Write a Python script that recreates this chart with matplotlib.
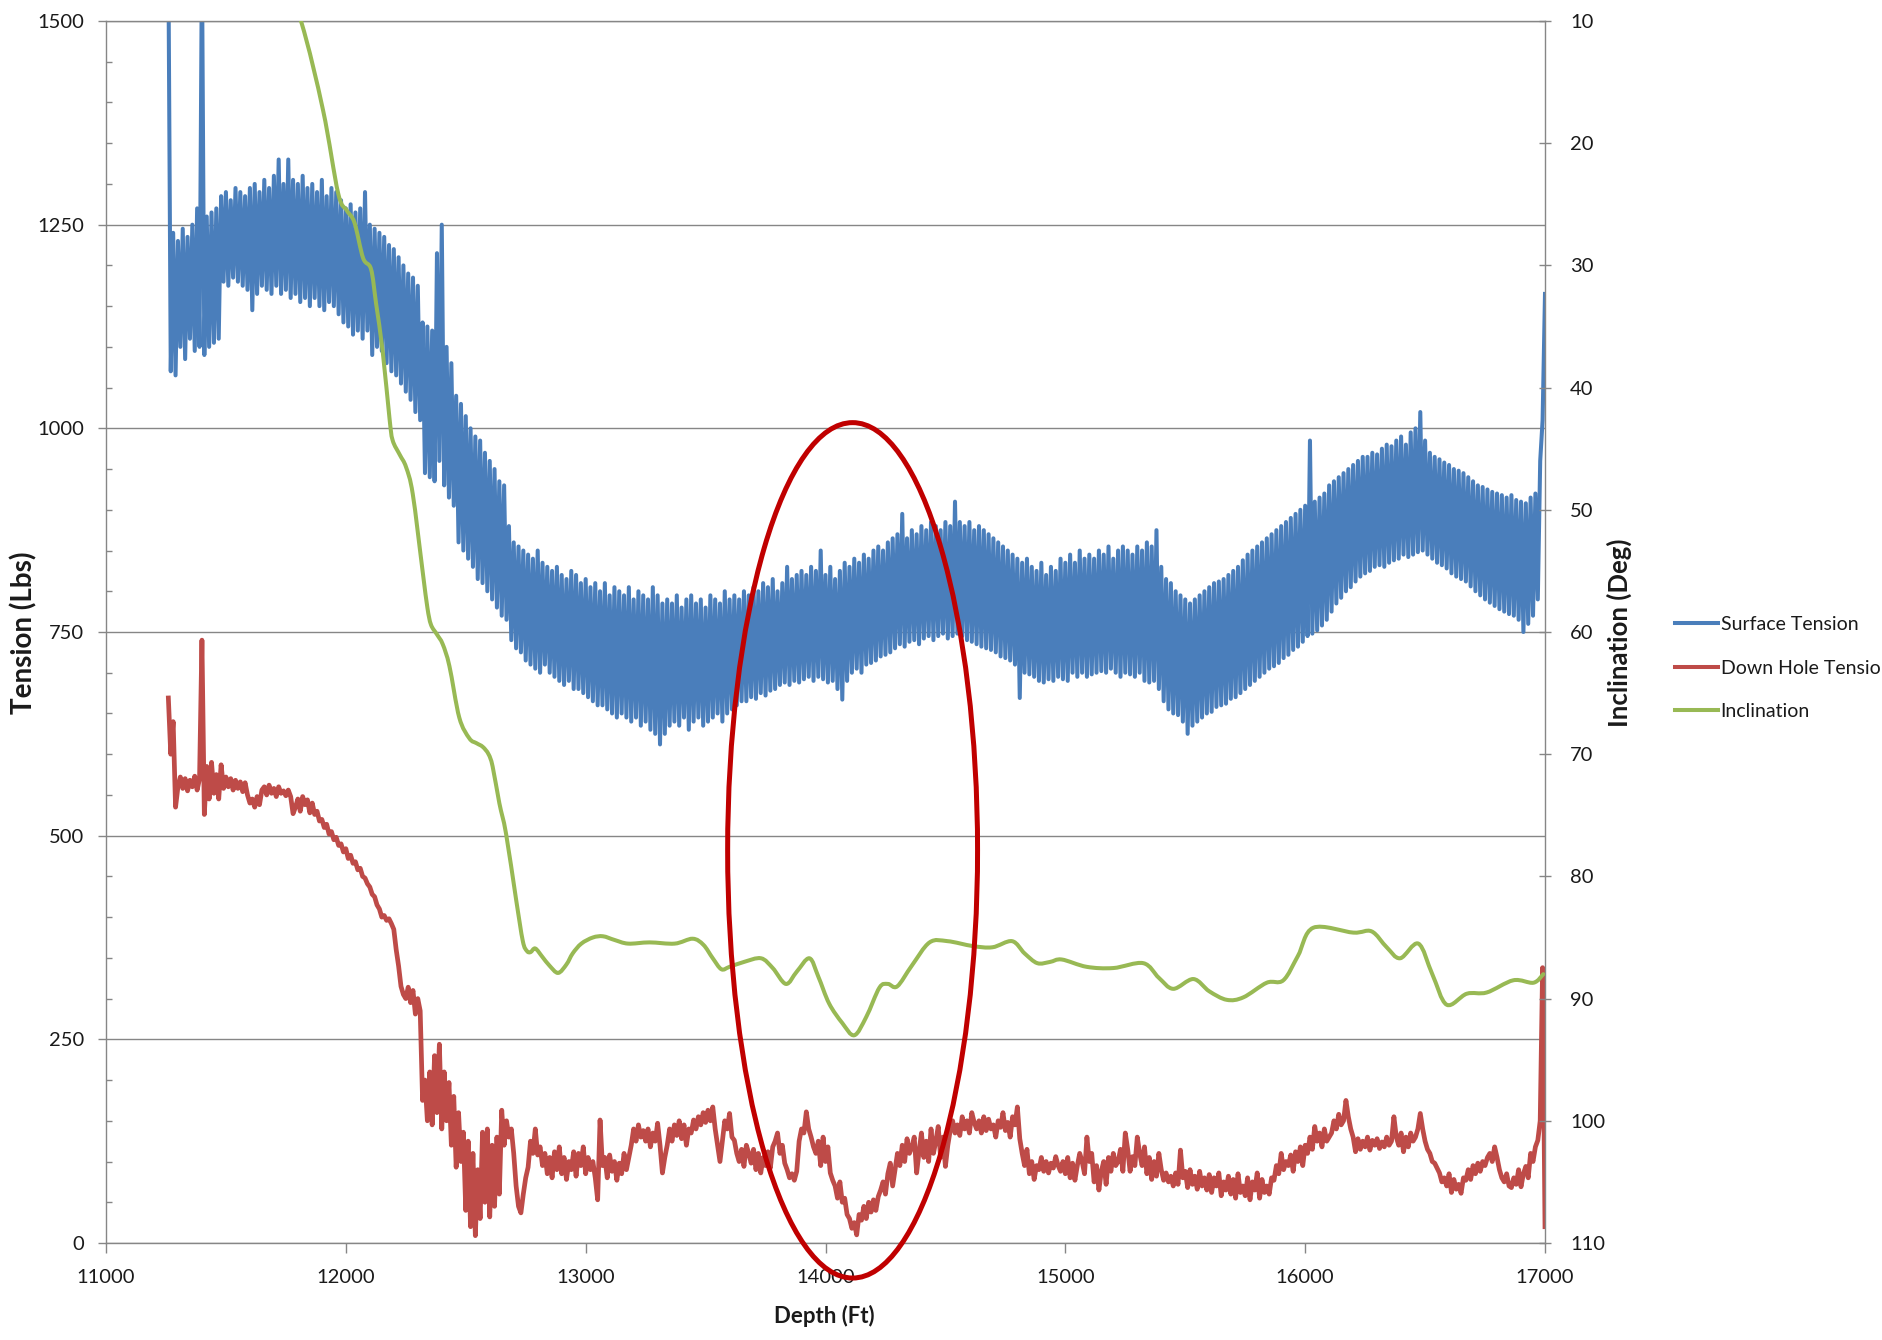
import numpy as np
import matplotlib
matplotlib.use("Agg")
import matplotlib.pyplot as plt
from matplotlib.patches import Ellipse, PathPatch
from matplotlib.path import Path
from matplotlib.lines import Line2D
from matplotlib.ticker import MultipleLocator, FixedLocator

plt.rcParams['font.family'] = ['Lato', 'DejaVu Sans']

# Logged depth grid (ft), one reading every 10 ft
log_depth = np.arange(11260, 17001, 10)

# Surface tension readings (lbs)
surface_tension = [
    1580, 1070, 1240, 1065, 1230, 1100, 1245, 1085, 1235, 1110,
    1250, 1095, 1270, 1100, 1580, 1090, 1260, 1100, 1265, 1105,
    1270, 1110, 1285, 1180, 1290, 1175, 1280, 1185, 1295, 1180,
    1290, 1175, 1285, 1170, 1295, 1145, 1300, 1165, 1290, 1175,
    1305, 1170, 1295, 1165, 1310, 1175, 1330, 1165, 1300, 1170,
    1330, 1160, 1305, 1165, 1300, 1155, 1310, 1160, 1295, 1150,
    1300, 1160, 1290, 1150, 1305, 1145, 1285, 1155, 1295, 1150,
    1290, 1140, 1280, 1130, 1270, 1125, 1275, 1115, 1265, 1120,
    1270, 1110, 1290, 1120, 1250, 1090, 1245, 1100, 1240, 1095,
    1235, 1080, 1225, 1070, 1220, 1065, 1210, 1055, 1200, 1045,
    1190, 1035, 1185, 1020, 1175, 1010, 1130, 945, 1125, 940,
    1120, 935, 1215, 960, 1250, 930, 1100, 915, 1080, 905,
    1040, 860, 1030, 850, 1015, 840, 1000, 830, 990, 815,
    985, 810, 970, 800, 960, 790, 950, 780, 935, 770,
    930, 765, 880, 740, 860, 730, 855, 725, 850, 715,
    845, 710, 840, 705, 850, 700, 835, 710, 830, 700,
    825, 695, 830, 690, 820, 685, 815, 690, 825, 680,
    820, 680, 810, 675, 815, 670, 805, 665, 810, 660,
    800, 660, 810, 655, 795, 650, 805, 645, 800, 650,
    795, 645, 805, 640, 790, 645, 800, 635, 795, 640,
    790, 630, 805, 625, 795, 612, 785, 625, 790, 635,
    785, 640, 795, 635, 780, 645, 790, 630, 795, 640,
    785, 645, 790, 635, 780, 640, 795, 645, 790, 650,
    785, 640, 800, 650, 790, 655, 795, 660, 790, 665,
    800, 665, 795, 670, 805, 668, 800, 675, 810, 672,
    805, 678, 815, 680, 800, 685, 810, 688, 830, 685,
    815, 690, 820, 688, 825, 692, 820, 695, 830, 690,
    825, 695, 850, 692, 820, 688, 830, 690, 815, 680,
    825, 667, 835, 690, 830, 700, 840, 705, 835, 700,
    845, 710, 840, 712, 850, 715, 855, 720, 850, 722,
    860, 725, 865, 730, 870, 735, 895, 732, 865, 738,
    875, 740, 870, 735, 880, 742, 875, 745, 885, 740,
    880, 745, 875, 748, 885, 742, 880, 745, 910, 748,
    885, 745, 880, 740, 885, 738, 875, 735, 880, 732,
    875, 730, 870, 728, 865, 725, 860, 720, 855, 718,
    850, 715, 845, 710, 840, 669, 835, 700, 840, 698,
    830, 695, 825, 690, 835, 688, 820, 692, 830, 690,
    825, 695, 840, 692, 835, 690, 845, 700, 835, 695,
    850, 700, 840, 695, 845, 698, 840, 700, 850, 702,
    845, 700, 855, 705, 840, 700, 850, 695, 855, 700,
    850, 698, 845, 695, 855, 700, 850, 690, 860, 688,
    855, 690, 875, 680, 830, 665, 815, 655, 810, 650,
    800, 648, 795, 640, 790, 625, 785, 635, 790, 640,
    795, 645, 800, 650, 805, 652, 810, 658, 812, 660,
    815, 662, 820, 668, 825, 670, 830, 675, 838, 680,
    845, 685, 850, 690, 855, 695, 860, 700, 865, 705,
    870, 708, 875, 712, 880, 718, 885, 722, 890, 728,
    895, 732, 900, 738, 905, 745, 985, 748, 910, 752,
    915, 758, 920, 765, 930, 775, 935, 785, 940, 792,
    945, 800, 950, 805, 955, 812, 960, 818, 965, 822,
    965, 825, 970, 830, 968, 832, 975, 830, 980, 835,
    978, 838, 985, 840, 990, 845, 980, 842, 995, 845,
    1000, 848, 1020, 850, 985, 845, 970, 840, 965, 835,
    962, 832, 958, 828, 955, 822, 950, 818, 948, 815,
    945, 812, 940, 806, 935, 800, 930, 795, 928, 790,
    925, 786, 922, 782, 920, 778, 918, 775, 915, 772,
    918, 770, 912, 765, 910, 750, 908, 760, 915, 770,
    920, 790, 960, 1010, 1165,
]

# Down hole tension readings (lbs)
downhole_tension = [
    669, 600, 640, 535, 560, 572, 558, 570, 555, 568,
    560, 573, 556, 570, 740, 526, 585, 545, 590, 552,
    575, 545, 587, 558, 572, 560, 570, 556, 568, 558,
    566, 554, 565, 550, 540, 545, 535, 548, 538, 556,
    560, 550, 562, 552, 558, 548, 560, 552, 555, 549,
    556, 548, 527, 535, 545, 530, 548, 538, 544, 528,
    540, 526, 530, 518, 520, 510, 514, 502, 505, 495,
    498, 488, 490, 480, 484, 472, 476, 466, 468, 458,
    460, 450, 448, 441, 437, 428, 425, 415, 410, 400,
    402, 396, 398, 392, 385, 360, 340, 315, 305, 300,
    314, 295, 310, 281, 300, 285, 175, 200, 150, 210,
    145, 230, 160, 244, 140, 210, 150, 197, 120, 180,
    93, 160, 100, 136, 40, 125, 20, 110, 9, 90,
    30, 136, 50, 140, 32, 120, 45, 130, 60, 163,
    120, 150, 130, 140, 110, 70, 45, 37, 60, 80,
    93, 125, 110, 140, 108, 118, 95, 110, 85, 105,
    80, 112, 90, 118, 85, 105, 78, 100, 90, 112,
    82, 110, 95, 118, 85, 105, 90, 100, 80, 53,
    151, 95, 105, 80, 108, 88, 100, 77, 98, 85,
    110, 90, 105, 120, 140, 125, 145, 130, 138, 125,
    140, 118, 135, 125, 147, 120, 86, 105, 120, 140,
    125, 145, 132, 150, 128, 145, 120, 140, 135, 151,
    140, 155, 145, 160, 148, 163, 150, 167, 140, 120,
    100, 125, 150, 140, 159, 130, 126, 110, 100, 115,
    94, 120, 110, 98, 115, 90, 110, 86, 105, 95,
    112, 92, 118, 125, 135, 110, 120, 98, 90, 80,
    85, 77, 88, 125, 140, 135, 161, 140, 130, 118,
    110, 125, 95, 130, 100, 118, 86, 77, 70, 55,
    75, 50, 55, 35, 30, 18, 25, 10, 35, 28,
    45, 30, 50, 38, 53, 40, 57, 65, 75, 60,
    85, 98, 70, 90, 110, 95, 120, 100, 128, 110,
    118, 130, 86, 112, 135, 105, 125, 100, 140, 110,
    125, 143, 105, 130, 94, 120, 138, 150, 135, 145,
    132, 155, 140, 150, 135, 160, 148, 140, 150, 135,
    155, 138, 152, 140, 145, 130, 150, 142, 160, 138,
    148, 130, 155, 145, 167, 128, 110, 95, 115, 85,
    100, 78, 95, 90, 105, 88, 100, 86, 98, 92,
    106, 95, 88, 100, 85, 105, 80, 98, 77, 95,
    110, 100, 85, 130, 100, 110, 75, 95, 65, 88,
    100, 72, 105, 88, 110, 95, 100, 115, 88, 135,
    115, 88, 106, 95, 130, 110, 95, 118, 85, 105,
    78, 100, 82, 110, 90, 77, 86, 75, 82, 70,
    86, 72, 114, 80, 88, 68, 90, 72, 82, 66,
    88, 70, 80, 65, 84, 62, 80, 70, 86, 58,
    75, 65, 82, 60, 78, 55, 85, 62, 70, 58,
    80, 53, 75, 65, 86, 55, 78, 62, 70, 60,
    80, 77, 95, 85, 110, 90, 100, 95, 108, 88,
    112, 100, 118, 95, 120, 110, 130, 115, 143, 125,
    135, 118, 140, 125, 130, 135, 150, 140, 158, 145,
    150, 175, 155, 140, 130, 112, 128, 115, 125, 118,
    130, 114, 126, 120, 128, 116, 124, 118, 130, 120,
    125, 155, 130, 120, 135, 112, 130, 118, 135, 125,
    130, 140, 159, 140, 125, 115, 110, 100, 98, 92,
    86, 75, 80, 70, 85, 62, 78, 66, 72, 61,
    80, 77, 90, 78, 95, 85, 98, 88, 100, 95,
    105, 110, 100, 118, 105, 90, 80, 75, 85, 70,
    68, 80, 72, 90, 69, 85, 94, 80, 110, 100,
    118, 126, 150, 338, 20,
]

# Survey inclination (deg) at survey depths (ft)
incl_depth = [
    11700, 11813, 11905, 11968, 12004, 12036, 12072, 12105, 12126, 12154,
    12182, 12195, 12225, 12251, 12279, 12320, 12340, 12355, 12380, 12404,
    12432, 12473, 12515, 12545, 12571, 12595, 12612, 12640, 12668, 12710,
    12738, 12755, 12770, 12790, 12820, 12849, 12885, 12920, 12946, 12982,
    13030, 13072, 13120, 13177, 13266, 13371, 13446, 13491, 13530, 13566,
    13600, 13660, 13731, 13780, 13835, 13880, 13933, 13970, 14015, 14070,
    14120, 14170, 14225, 14260, 14299, 14360, 14434, 14509, 14614, 14696,
    14778, 14830, 14883, 14936, 14985, 15089, 15200, 15325, 15390, 15450,
    15534, 15600, 15673, 15742, 15840, 15909, 15970, 16034, 16201, 16277,
    16340, 16396, 16472, 16530, 16590, 16674, 16757, 16868, 16952, 16993,
]
inclination = [
    4.0, 10.0, 17.3, 24.1, 25.5, 26.5, 29.4, 30.3, 33.1, 37.1,
    42.5, 44.3, 45.5, 46.5, 48.7, 55.0, 58.0, 59.4, 60.2, 61.0,
    62.8, 67.0, 68.7, 69.1, 69.4, 70.0, 71.0, 74.0, 76.5, 81.9,
    85.3, 86.1, 86.2, 85.9, 86.6, 87.3, 87.9, 87.2, 86.3, 85.5,
    85.0, 84.9, 85.2, 85.5, 85.4, 85.5, 85.1, 85.6, 86.7, 87.6,
    87.4, 87.0, 86.7, 87.5, 88.8, 87.8, 86.7, 88.2, 90.4, 92.0,
    93.0, 91.5, 89.1, 88.8, 89.0, 87.3, 85.4, 85.3, 85.7, 85.8,
    85.3, 86.3, 87.1, 87.0, 86.8, 87.4, 87.5, 87.1, 88.3, 89.2,
    88.4, 89.4, 90.1, 89.9, 88.7, 88.5, 86.5, 84.2, 84.6, 84.5,
    85.8, 86.7, 85.5, 88.0, 90.5, 89.6, 89.5, 88.5, 88.7, 88.0,
]

depth_ticks = [11000, 12000, 13000, 14000, 15000, 16000, 17000]
tension_ticks = [0, 250, 500, 750, 1000, 1250, 1500]
incl_ticks = [10, 20, 30, 40, 50, 60, 70, 80, 90, 100, 110]
series_names = ["Surface Tension", "Down Hole Tension", "Inclination"]

# Highlighted interval (depth ft, tension lbs)
highlight_center = (14113, 482)
highlight_size = (1042, 1050)

BLUE = "#4A7EBB"
RED = "#BE4B48"
GREEN = "#98B954"
MARK = "#C00000"
AXIS_GREY = "#868686"
TEXT = "#1A1A1A"
FS = 14.5
LW = 2.9


def smoothed_path(xs, ys):
    """Smoothed-line rendering: cubic Bezier segments through every point."""
    pts = np.column_stack([xs, ys]).astype(float)
    n = len(pts)
    verts = [pts[0]]
    codes = [Path.MOVETO]
    for i in range(n - 1):
        p0 = pts[i - 1] if i > 0 else pts[i]
        p1, p2 = pts[i], pts[i + 1]
        p3 = pts[i + 2] if i + 2 < n else pts[i + 1]
        verts += [p1 + (p2 - p0) / 6.0, p2 - (p3 - p1) / 6.0, p2]
        codes += [Path.CURVE4] * 3
    return Path(verts, codes)


fig = plt.figure(figsize=(18.83, 13.40), dpi=100)
ax = fig.add_axes([106 / 1883, 1 - 1243 / 1340, 1439 / 1883, 1222 / 1340])
ax2 = ax.twinx()

# Tension traces on the primary axis
ax.plot(log_depth, surface_tension, color=BLUE, lw=LW, solid_joinstyle="round", zorder=2)
ax.plot(log_depth, downhole_tension, color=RED, lw=3.4, solid_joinstyle="round", zorder=3)

# Inclination on the reversed secondary axis, drawn as a smoothed line
ax2.add_patch(PathPatch(smoothed_path(incl_depth, inclination), fill=False,
                        edgecolor=GREEN, lw=LW, capstyle="round", joinstyle="round",
                        zorder=4))

ax.set_xlim(depth_ticks[0], depth_ticks[-1])
ax.set_ylim(tension_ticks[0], tension_ticks[-1])
ax2.set_ylim(incl_ticks[-1], incl_ticks[0])

ax.xaxis.set_major_locator(FixedLocator(depth_ticks))
ax.yaxis.set_major_locator(FixedLocator(tension_ticks))
ax.yaxis.set_minor_locator(MultipleLocator(50))
ax2.yaxis.set_major_locator(FixedLocator(incl_ticks))

ax.grid(axis="y", which="major", color=AXIS_GREY, lw=1.0)
ax.set_axisbelow(True)

for sp in ax.spines.values():
    sp.set_color(AXIS_GREY)
    sp.set_linewidth(1.0)
ax.spines["right"].set_visible(False)
for name, sp in ax2.spines.items():
    sp.set_visible(name == "right")
    sp.set_color(AXIS_GREY)
    sp.set_linewidth(1.0)

ax.tick_params(axis="y", which="major", direction="out", length=6, width=1,
               color=AXIS_GREY, labelsize=FS, labelcolor=TEXT, pad=10)
ax.tick_params(axis="y", which="minor", direction="in", length=4.5, width=1,
               color=AXIS_GREY)
ax.tick_params(axis="x", which="major", direction="out", length=7, width=1,
               color=AXIS_GREY, labelsize=FS, labelcolor=TEXT, pad=12)
ax2.tick_params(axis="y", which="major", direction="inout", length=8, width=1,
                color=AXIS_GREY, labelsize=FS, labelcolor=TEXT, pad=14)

ax.set_xticklabels([str(v) for v in depth_ticks])
ax.set_yticklabels([str(v) for v in tension_ticks])
ax2.set_yticklabels([str(v) for v in incl_ticks])

# Axis titles
fig.text(24 / 1883, 1 - 633 / 1340, "Tension (Lbs)", rotation=90, ha="center", va="center",
         fontsize=20, fontweight="bold", color=TEXT)
fig.text(1619 / 1883, 1 - 633 / 1340, "Inclination (Deg)", rotation=90, ha="center",
         va="center", fontsize=18.5, fontweight="bold", color=TEXT)
fig.text(824 / 1883, 1 - 1316 / 1340, "Depth (Ft)", ha="center", va="center",
         fontsize=16, fontweight="bold", color=TEXT)

# Highlight ring around the interval of interest
ring = Ellipse(highlight_center, highlight_size[0], highlight_size[1], fill=False,
               edgecolor=MARK, lw=3.6, transform=ax.transData, clip_on=False, zorder=10)
ax2.add_patch(ring)

handles = [Line2D([], [], color=c, lw=LW) for c in (BLUE, RED, GREEN)]
fig.legend(handles, series_names, loc="center left",
           bbox_to_anchor=(1675 / 1883, 1 - 668 / 1340), frameon=False, fontsize=14,
           handlelength=2.2, handletextpad=0.15, labelspacing=1.37, borderpad=0,
           borderaxespad=0, labelcolor=TEXT)

fig.savefig("out.png", dpi=100)
